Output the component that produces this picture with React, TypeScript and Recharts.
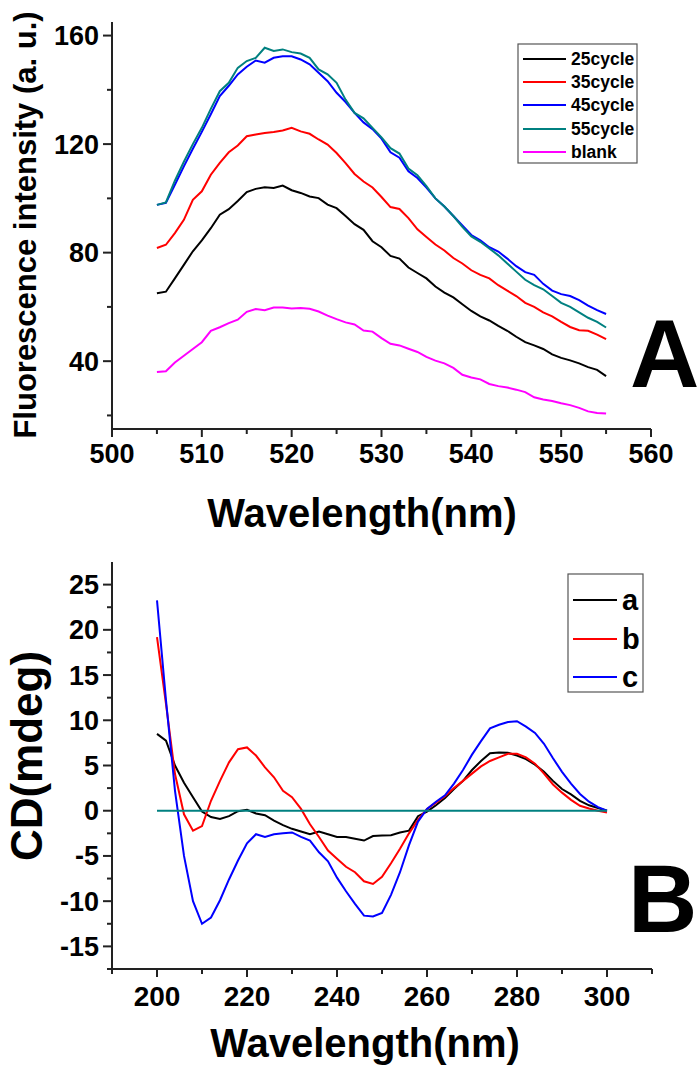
import React from "react";
import { LineChart, Line, XAxis, YAxis, ReferenceLine } from "recharts";

const FONT = '"Liberation Sans", Arial, sans-serif';
const AXIS = "#222";

// ---- panel A: fluorescence spectra ----
const fluoNm = [
  505, 506, 507, 508, 509, 510, 511, 512, 513, 514, 515, 516, 517, 518, 519, 520, 521,
  522, 523, 524, 525, 526, 527, 528, 529, 530, 531, 532, 533, 534, 535, 536, 537, 538,
  539, 540, 541, 542, 543, 544, 545, 546, 547, 548, 549, 550, 551, 552, 553, 554, 555,
];
const cycle25 = [
  65.0, 65.6, 70.5, 75.5, 80.5, 84.5, 89.0, 94.0, 96.0, 99.0, 102.3, 103.5, 104.1, 103.8,
  104.7, 103.0, 102.0, 100.7, 100.1, 97.7, 96.4, 93.5, 90.5, 88.4, 84.2, 82.0, 78.8, 77.8,
  74.5, 72.5, 70.5, 67.5, 65.3, 63.5, 61.0, 58.5, 56.5, 55.0, 53.0, 51.2, 49.0, 47.0, 45.8,
  44.5, 42.5, 41.2, 40.3, 39.2, 37.8, 36.8, 34.5,
];
const cycle35 = [
  81.7, 82.9, 87.2, 92.1, 99.5, 102.6, 108.7, 113.1, 117.0, 119.5, 122.9, 123.5, 124.1,
  124.5, 125.0, 126.0, 124.7, 123.8, 121.7, 119.8, 116.7, 113.0, 109.0, 106.2, 104.0, 100.5,
  96.8, 96.1, 92.7, 88.6, 85.8, 83.0, 80.8, 78.0, 76.0, 73.5, 71.8, 70.5, 68.0, 66.0, 64.0,
  61.5, 60.0, 58.0, 56.5, 54.5, 52.6, 51.4, 51.2, 49.8, 48.1,
];
const cycle45 = [
  97.6, 98.3, 105.0, 111.8, 118.3, 124.5, 131.0, 137.7, 141.5, 145.7, 148.5, 150.8, 150.0,
  151.8, 152.4, 152.4, 151.2, 149.4, 146.3, 143.2, 138.9, 135.5, 131.5, 128.0, 125.5, 122.0,
  117.0, 115.0, 110.0, 107.5, 104.0, 100.0, 97.0, 93.5, 90.0, 86.5, 84.5, 82.0, 80.4, 77.8,
  75.0, 72.8, 71.8, 68.5, 66.0, 64.7, 64.0, 62.5, 60.5, 58.8, 57.4,
];
const cycle55 = [
  97.6, 98.5, 106.5, 113.5, 120.0, 126.0, 133.0, 139.5, 142.6, 148.1, 150.6, 151.8, 155.5,
  154.3, 154.9, 153.9, 153.4, 151.8, 147.5, 145.7, 142.6, 136.4, 131.5, 129.5, 126.0, 122.5,
  118.5, 116.5, 111.0, 108.5, 104.5, 100.0, 97.0, 93.5, 89.5, 86.0, 84.0, 81.5, 79.0, 76.0,
  73.0, 70.0, 68.0, 66.5, 64.0, 61.5, 60.0, 58.0, 56.0, 54.5, 52.4,
];
const blank = [
  36.05, 36.3, 39.5, 42.0, 44.5, 47.0, 51.2, 52.5, 54.0, 55.3, 58.2, 59.2, 58.8, 59.8, 59.8,
  59.4, 59.6, 59.3, 58.3, 56.8, 55.5, 54.3, 53.5, 51.3, 50.9, 48.5, 46.4, 45.8, 44.6, 43.4,
  41.6, 40.2, 39.2, 37.5, 35.0, 34.0, 33.3, 31.6, 30.8, 30.3, 29.5, 28.6, 26.7, 25.9, 25.3,
  24.5, 23.8, 22.8, 21.5, 20.9, 20.7,
];
const fluoSeries = [
  { key: "c25", name: "25cycle", color: "#000000", values: cycle25 },
  { key: "c35", name: "35cycle", color: "#ff0000", values: cycle35 },
  { key: "c45", name: "45cycle", color: "#0000ff", values: cycle45 },
  { key: "c55", name: "55cycle", color: "#008080", values: cycle55 },
  { key: "blank", name: "blank", color: "#ff00ff", values: blank },
];
const fluoXTicks = [500, 505, 510, 515, 520, 525, 530, 535, 540, 545, 550, 555, 560];
const fluoXLabels = [500, 510, 520, 530, 540, 550, 560];
const fluoYTicks = [20, 40, 60, 80, 100, 120, 140, 160];
const fluoYLabels = [40, 80, 120, 160];

// ---- panel B: CD spectra ----
const cdNm = [
  200, 202, 204, 206, 208, 210, 212, 214, 216, 218, 220, 222, 224, 226, 228, 230, 232, 234,
  236, 238, 240, 242, 244, 246, 248, 250, 252, 254, 256, 258, 260, 262, 264, 266, 268, 270,
  272, 274, 276, 278, 280, 282, 284, 286, 288, 290, 292, 294, 296, 298, 300,
];
const cdA = [
  8.5, 7.75, 5.0, 3.1, 1.5, -0.1, -0.7, -0.9, -0.6, -0.05, 0.1, -0.3, -0.5, -1.1, -1.6, -2.0,
  -2.3, -2.6, -2.3, -2.6, -2.9, -2.9, -3.1, -3.3, -2.8, -2.75, -2.7, -2.4, -2.2, -0.6, -0.1,
  0.6, 1.4, 2.4, 3.3, 4.5, 5.5, 6.35, 6.45, 6.4, 6.1, 5.7, 5.1, 4.3, 3.3, 2.4, 1.8, 1.1, 0.6,
  0.3, 0.0,
];
const cdB = [
  19.2, 11.8, 4.05, -0.4, -2.2, -1.7, 1.1, 3.3, 5.35, 6.8, 7.0, 6.1, 4.8, 3.7, 2.2, 1.5, 0.2,
  -1.5, -2.9, -4.4, -5.3, -6.2, -6.8, -7.8, -8.1, -7.3, -5.8, -4.2, -2.5, -1.0, 0.2, 0.9, 1.6,
  2.5, 3.3, 4.1, 4.9, 5.5, 5.9, 6.3, 6.3, 5.9, 5.2, 4.1, 2.9, 2.0, 1.2, 0.55, 0.25, 0.0, -0.2,
];
const cdC = [
  23.25, 12.2, 2.2, -5.0, -10.0, -12.5, -11.8, -9.9, -7.6, -5.5, -3.6, -2.6, -2.9, -2.6, -2.5,
  -2.4, -2.9, -3.3, -4.6, -5.6, -7.4, -8.9, -10.3, -11.6, -11.7, -11.3, -9.3, -6.8, -3.8, -1.2,
  0.2, 1.0, 1.7, 3.0, 4.5, 6.2, 7.7, 9.1, 9.5, 9.8, 9.9, 9.3, 8.6, 7.4, 5.8, 4.3, 3.0, 1.85,
  1.0, 0.4, 0.0,
];
const cdSeries = [
  { key: "a", name: "a", color: "#000000", values: cdA },
  { key: "b", name: "b", color: "#ff0000", values: cdB },
  { key: "c", name: "c", color: "#0000ff", values: cdC },
];
const cdXTicks = [190, 200, 210, 220, 230, 240, 250, 260, 270, 280, 290, 300, 310];
const cdXLabels = [200, 220, 240, 260, 280, 300];
const cdYTicks = [
  -17.5, -15, -12.5, -10, -7.5, -5, -2.5, 0, 2.5, 5, 7.5, 10, 12.5, 15, 17.5, 20, 22.5, 25,
];
const cdYLabels = [-15, -10, -5, 0, 5, 10, 15, 20, 25];

const fluoData = fluoNm.map((nm, i) => {
  const row: Record<string, number> = { nm };
  fluoSeries.forEach((s) => (row[s.key] = s.values[i]));
  return row;
});
const cdData = cdNm.map((nm, i) => {
  const row: Record<string, number> = { nm };
  cdSeries.forEach((s) => (row[s.key] = s.values[i]));
  return row;
});

function XTick(props: any) {
  const { x, y, payload, labels, dy, size } = props;
  const major = labels.includes(payload.value);
  return (
    <g>
      <line x1={x} x2={x} y1={y} y2={y + (major ? 8 : 5)} stroke={AXIS} strokeWidth={2} />
      {major && (
        <text x={x} y={y + dy} textAnchor="middle" fontFamily={FONT} fontWeight="bold" fontSize={size} fill="#000">
          {payload.value}
        </text>
      )}
    </g>
  );
}

function YTick(props: any) {
  const { x, y, payload, labels } = props;
  const major = labels.includes(payload.value);
  return (
    <g>
      <line x1={x - (major ? 9 : 5)} x2={x} y1={y} y2={y} stroke={AXIS} strokeWidth={2} />
      {major && (
        <text x={x - 13} y={y + 9.5} textAnchor="end" fontFamily={FONT} fontWeight="bold" fontSize={27} fill="#000">
          {payload.value}
        </text>
      )}
    </g>
  );
}

function Legend({ x, y, w, h, rowY, lineLen, fontSize, series }: any) {
  return (
    <g>
      <rect x={x} y={y} width={w} height={h} fill="#fff" stroke="#555" strokeWidth={1.2} />
      {series.map((s: any, i: number) => (
        <g key={s.key}>
          <line x1={x + 5} x2={x + 5 + lineLen} y1={rowY[i]} y2={rowY[i]} stroke={s.color} strokeWidth={2} />
          <text
            x={x + 10 + lineLen}
            y={rowY[i] + fontSize * 0.36}
            fontFamily={FONT}
            fontWeight="bold"
            fontSize={fontSize}
          >
            {s.name}
          </text>
        </g>
      ))}
    </g>
  );
}

export default function App() {
  return (
    <div style={{ position: "absolute", left: 0, top: 0, width: 700, height: 1067, background: "#fff" }}>
      <div style={{ position: "absolute", left: 0, top: 0 }}>
        <LineChart width={700} height={540} data={fluoData} margin={{ top: 22, right: 49, bottom: 0, left: 0 }}>
          <XAxis
            dataKey="nm"
            type="number"
            domain={[500, 560]}
            ticks={fluoXTicks}
            interval={0}
            height={111}
            tickSize={0}
            tickMargin={0}
            tickLine={false}
            axisLine={{ stroke: AXIS, strokeWidth: 2 }}
            tick={(p: any) => <XTick {...p} labels={fluoXLabels} dy={34} size={27} />}
          />
          <YAxis
            type="number"
            domain={[15, 165]}
            ticks={fluoYTicks}
            interval={0}
            width={112}
            tickSize={0}
            tickMargin={0}
            tickLine={false}
            axisLine={{ stroke: AXIS, strokeWidth: 2 }}
            tick={(p: any) => <YTick {...p} labels={fluoYLabels} />}
            allowDataOverflow
          />
          {fluoSeries.map((s) => (
            <Line
              key={s.key}
              dataKey={s.key}
              stroke={s.color}
              strokeWidth={2}
              dot={false}
              type="linear"
              isAnimationActive={false}
            />
          ))}
        </LineChart>
      </div>
      <div style={{ position: "absolute", left: 0, top: 540 }}>
        <LineChart width={700} height={527} data={cdData} margin={{ top: 22, right: 48, bottom: 0, left: 0 }}>
          <XAxis
            dataKey="nm"
            type="number"
            domain={[190, 310]}
            ticks={cdXTicks}
            interval={0}
            height={98}
            tickSize={0}
            tickMargin={0}
            tickLine={false}
            axisLine={{ stroke: AXIS, strokeWidth: 2 }}
            tick={(p: any) => <XTick {...p} labels={cdXLabels} dy={37} size={28} />}
          />
          <YAxis
            type="number"
            domain={[-17.5, 27.5]}
            ticks={cdYTicks}
            interval={0}
            width={112}
            tickSize={0}
            tickMargin={0}
            tickLine={false}
            axisLine={{ stroke: AXIS, strokeWidth: 2 }}
            tick={(p: any) => <YTick {...p} labels={cdYLabels} />}
            allowDataOverflow
          />
          {cdSeries.map((s) => (
            <Line
              key={s.key}
              dataKey={s.key}
              stroke={s.color}
              strokeWidth={2}
              dot={false}
              type="linear"
              isAnimationActive={false}
            />
          ))}
          <ReferenceLine
            segment={[
              { x: 200, y: 0 },
              { x: 300, y: 0 },
            ]}
            stroke="#008080"
            strokeWidth={2}
          />
        </LineChart>
      </div>
      <svg
        width={700}
        height={1067}
        style={{ position: "absolute", left: 0, top: 0, pointerEvents: "none" }}
      >
        <Legend
          x={518}
          y={44}
          w={119}
          h={119}
          rowY={[59, 82, 105, 129, 152]}
          lineLen={43}
          fontSize={17.5}
          series={fluoSeries}
        />
        <Legend
          x={568}
          y={574}
          w={75}
          h={118}
          rowY={[600, 639, 677]}
          lineLen={44}
          fontSize={29}
          series={cdSeries}
        />
        <text
          x={36}
          y={225}
          transform="rotate(-90 36 225)"
          textAnchor="middle"
          fontFamily={FONT}
          fontWeight="bold"
          fontSize={31}
        >
          Fluorescence intensity (a. u.)
        </text>
        <text x={362} y={527} textAnchor="middle" fontFamily={FONT} fontWeight="bold" fontSize={40}>
          Wavelength(nm)
        </text>
        <text x={630} y={387} fontFamily={FONT} fontWeight="bold" fontSize={96}>
          A
        </text>
        <text
          x={42}
          y={756}
          transform="rotate(-90 42 756)"
          textAnchor="middle"
          fontFamily={FONT}
          fontWeight="bold"
          fontSize={44}
        >
          CD(mdeg)
        </text>
        <text x={365} y={1057} textAnchor="middle" fontFamily={FONT} fontWeight="bold" fontSize={40}>
          Wavelength(nm)
        </text>
        <text x={628} y={932} fontFamily={FONT} fontWeight="bold" fontSize={96}>
          B
        </text>
      </svg>
    </div>
  );
}
